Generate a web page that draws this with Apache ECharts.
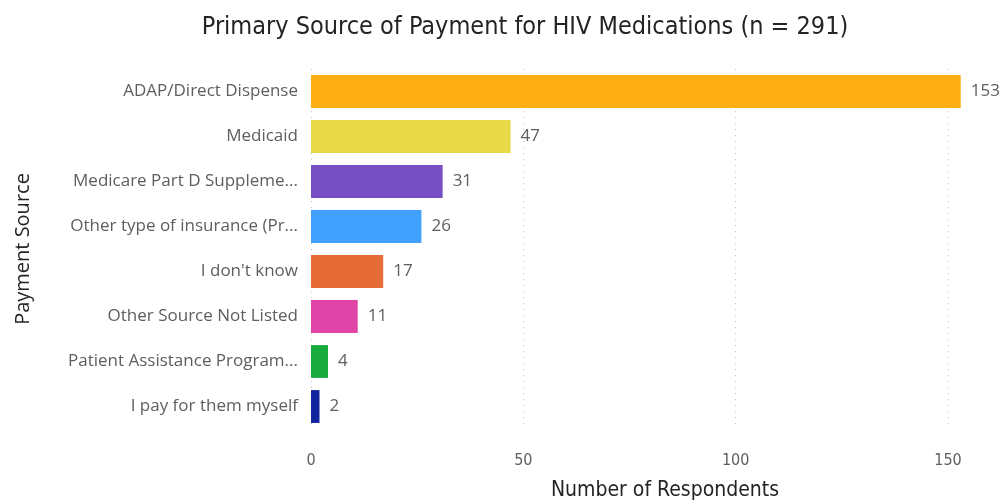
<!DOCTYPE html>
<html>
<head>
<meta charset="utf-8">
<script src="https://cdn.jsdelivr.net/npm/echarts@6/dist/echarts.min.js"></script>
<style>
  html, body { margin: 0; padding: 0; background: #fff; }
  #chart { width: 1003px; height: 500px; }
</style>
</head>
<body>
<div id="chart"></div>
<script>
// Payment sources, top to bottom
const categories = [
  'ADAP/Direct Dispense',
  'Medicaid',
  'Medicare Part D Suppleme...',
  'Other type of insurance (Pr...',
  "I don't know",
  'Other Source Not Listed',
  'Patient Assistance Program...',
  'I pay for them myself'
];
const respondents = [153, 47, 31, 26, 17, 11, 4, 2];
const barColors = ['#FFAE14', '#E8DA46', '#744EC2', '#42A0FF', '#E66C37', '#E044A7', '#1AAB40', '#12239E'];
const xTicks = [0, 50, 100, 150];

const condensed = '"Liberation Sans Narrow", "DejaVu Sans Condensed", "Roboto", sans-serif';
const body = '"Open Sans", "Noto Sans", sans-serif';

const chart = echarts.init(document.getElementById('chart'));
chart.setOption({
  animation: false,
  title: [{
    text: 'Primary Source of Payment for HIV Medications (n = 291)',
    left: 520, top: 10, textAlign: 'center',
    textStyle: { fontFamily: condensed, fontSize: 25, fontWeight: 'normal', color: '#252423' }
  }, {
    text: 'Number of Respondents',
    left: 660, top: 475, textAlign: 'center',
    textStyle: { fontFamily: condensed, fontSize: 21, fontWeight: 'normal', color: '#252423' }
  }],
  grid: { left: 311, right: 55, top: 69, bottom: 71 },
  xAxis: {
    type: 'value',
    min: xTicks[0], max: xTicks[xTicks.length - 1], interval: 50,
    axisLine: { show: false },
    axisTick: { show: false },
    axisLabel: { margin: 24, fontFamily: condensed, fontSize: 16, color: '#605E5C' },
    splitLine: { show: true, lineStyle: { type: [1, 5], color: '#C8C6C4', width: 1 } }
  },
  yAxis: {
    type: 'category',
    data: categories,
    inverse: true,
    name: 'Payment Source',
    nameLocation: 'middle',
    nameGap: 278,
    nameTextStyle: { fontFamily: body, fontSize: 20, color: '#252423' },
    axisLine: { show: false },
    axisTick: { show: false },
    axisLabel: { margin: 13, fontFamily: body, fontSize: 17, color: '#605E5C' }
  },
  series: [{
    type: 'bar',
    data: respondents.map((v, i) => ({ value: v, itemStyle: { color: barColors[i] } })),
    barCategoryGap: '27%',
    clip: false,
    label: {
      show: true, position: 'right', distance: 10,
      fontFamily: body, fontSize: 17, color: '#605E5C'
    }
  }]
});
</script>
</body>
</html>
